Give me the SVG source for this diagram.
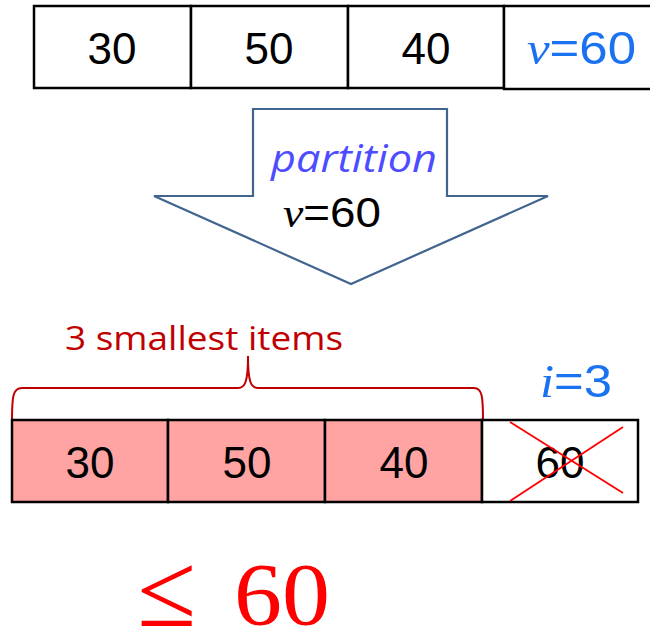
<svg xmlns="http://www.w3.org/2000/svg" width="650" height="636" viewBox="0 0 650 636">
<style>
.cell{fill:#ffffff;stroke:#000000;stroke-width:2.5}
.pink{fill:#ffa3a3;stroke:#000000;stroke-width:2.5}
.num{font-family:"Liberation Sans",Arial,sans-serif;font-size:44px;fill:#000000;text-anchor:middle}
.mi{font-family:"Liberation Serif","DejaVu Serif",serif;font-style:italic}
.blue{fill:#1a72f0}
</style>
<rect width="650" height="636" fill="#ffffff"/>
<g id="top-row">
<g id="t1"><rect class="cell" x="34" y="6" width="157" height="82"/><text class="num" x="112" y="64">30</text></g>
<g id="t2"><rect class="cell" x="191" y="6" width="157" height="82"/><text class="num" x="269" y="64">50</text></g>
<g id="t3"><rect class="cell" x="348" y="6" width="156" height="82"/><text class="num" x="426" y="64">40</text></g>
<g id="t4"><rect class="cell" x="504" y="6" width="160" height="83"/><text class="num blue" x="527" y="64" style="text-anchor:start;font-size:46px" textLength="109" lengthAdjust="spacingAndGlyphs"><tspan class="mi">v</tspan>=60</text></g>
</g>
<g id="partition-arrow">
<path d="M253,109 L447,109 L447,196 L548,196 L351,284 L154,196 L253,196 Z" fill="#ffffff" stroke="#41658f" stroke-width="2.2" stroke-linejoin="miter"/>
<text x="271" y="172" font-family="'Open Sans','Liberation Sans',sans-serif" font-style="italic" font-size="39" fill="#4d4dff" textLength="166" lengthAdjust="spacingAndGlyphs">partition</text>
<text x="283" y="227" font-family="'Liberation Sans',Arial,sans-serif" font-size="42" fill="#000000" textLength="98" lengthAdjust="spacingAndGlyphs"><tspan class="mi">v</tspan>=60</text>
</g>
<g id="brace">
<path d="M12,420 C12,396 13,388 22,388 L238,388 C245,388 248,382 248,356 C248,382 251,388 258,388 L474,388 C482,388 483,396 483,420" fill="none" stroke="#c00000" stroke-width="2"/>
<text x="65" y="350" font-family="'Open Sans','Liberation Sans',sans-serif" font-size="32" fill="#c00000" textLength="278" lengthAdjust="spacingAndGlyphs">3 smallest items</text>
</g>
<g id="bottom-row">
<g id="b1"><rect class="pink" x="12" y="420" width="156" height="82"/><text class="num" x="90" y="478">30</text></g>
<g id="b2"><rect class="pink" x="168" y="420" width="157" height="82"/><text class="num" x="247" y="478">50</text></g>
<g id="b3"><rect class="pink" x="325" y="420" width="157" height="82"/><text class="num" x="404" y="478">40</text></g>
<g id="b4"><rect class="cell" x="482" y="420" width="156" height="82"/><text class="num" x="560" y="478">60</text>
<line x1="510" y1="422" x2="623" y2="493" stroke="#ff0000" stroke-width="1.8"/>
<line x1="623" y1="427" x2="510" y2="501" stroke="#ff0000" stroke-width="1.8"/>
</g>
</g>
<text id="i-label" x="540" y="397" font-family="'Liberation Sans',Arial,sans-serif" font-size="46" class="blue" textLength="72" lengthAdjust="spacingAndGlyphs"><tspan class="mi">i</tspan>=3</text>
<g id="le60" font-family="'Liberation Serif','DejaVu Serif',serif" fill="#ff0000">
<text x="137" y="626" font-size="106" textLength="59" lengthAdjust="spacingAndGlyphs">≤</text>
<text x="234" y="624" font-size="88" textLength="96" lengthAdjust="spacingAndGlyphs">60</text>
</g>
</svg>
